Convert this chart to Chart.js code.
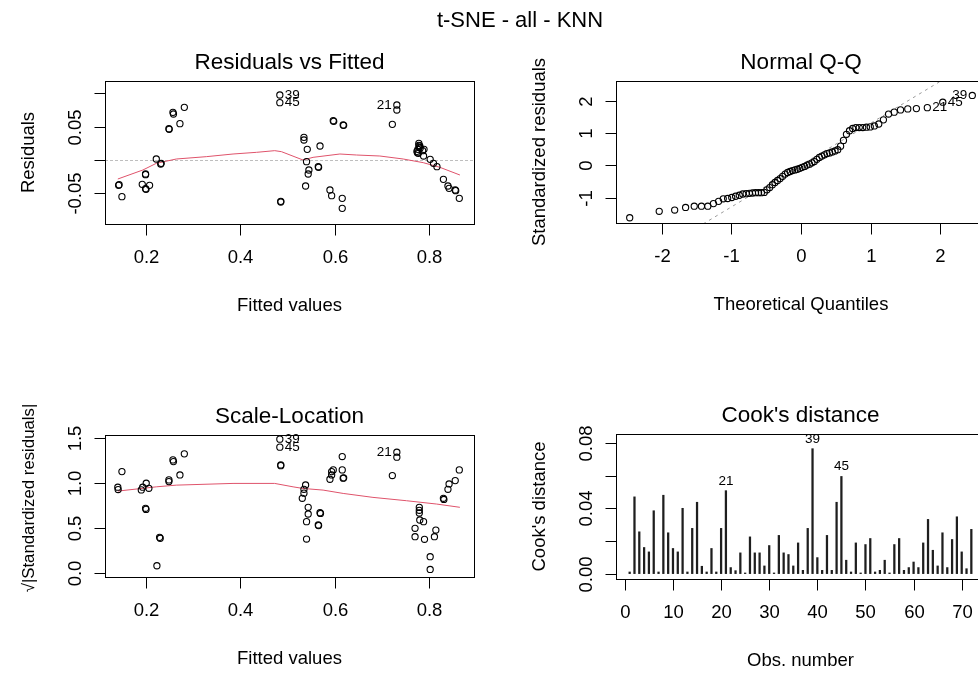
<!DOCTYPE html>
<html>
<head>
<meta charset="utf-8">
<script src="https://cdn.jsdelivr.net/npm/chart.js@4.4.0/dist/chart.umd.min.js"></script>
<style>
  html, body { margin: 0; padding: 0; background: #fff; overflow: hidden; }
  body { width: 978px; height: 673px; position: relative; font-family: "Liberation Sans", Arial, sans-serif; }
  .panel { position: absolute; }
  #mainTitle { position: absolute; top: 7px; left: 0; width: 1040px; text-align: center; font-size: 22px; color: #000; z-index: 2; }
</style>
</head>
<body>
<div class="panel" style="left:0;top:0"><canvas id="rvf" width="489" height="336"></canvas></div>
<div class="panel" style="left:489px;top:0"><canvas id="qq" width="520" height="336"></canvas></div>
<div class="panel" style="left:0;top:336px"><canvas id="sl" width="489" height="337"></canvas></div>
<div class="panel" style="left:489px;top:336px"><canvas id="cook" width="520" height="337"></canvas></div>
<div id="mainTitle">t-SNE - all - KNN</div>
<script>
// --- Residuals vs Fitted ---
const rvfFitted = [0.143, 0.144, 0.150, 0.193, 0.200, 0.200, 0.200, 0.201, 0.2085, 0.2227,
  0.232, 0.233, 0.2494, 0.250, 0.2579, 0.259, 0.2727, 0.282, 0.484, 0.484,
  0.486, 0.486, 0.535, 0.535, 0.542, 0.569, 0.5405, 0.5455, 0.544, 0.5653,
  0.566, 0.5385, 0.590, 0.5936, 0.616, 0.616, 0.597, 0.598, 0.618, 0.619,
  0.722, 0.7315, 0.7315, 0.778, 0.778, 0.779, 0.776, 0.774, 0.786, 0.789,
  0.788, 0.802, 0.809, 0.8163, 0.830, 0.8396, 0.842, 0.855, 0.856, 0.8636,
  0.780, 0.777, 0.781, 0.775];
const rvfResid = [-0.038, -0.037, -0.055, -0.0365, -0.021, -0.022, -0.043, -0.044, -0.038, 0.0015,
  -0.006, -0.005, 0.047, 0.046, 0.0715, 0.069, 0.0545, 0.079, 0.0975, 0.086,
  -0.063, -0.062, 0.034, 0.030, 0.016, 0.021, -0.0025, -0.015, -0.021, -0.010,
  -0.011, -0.039, -0.045, -0.0535, -0.0575, -0.0725, 0.059, 0.058, 0.0525, 0.052,
  0.0535, 0.0825, 0.075, 0.025, 0.022, 0.019, 0.016, 0.013, 0.014, 0.016,
  0.006, 0.001, -0.005, -0.010, -0.029, -0.039, -0.0425, -0.045, -0.046, -0.0575,
  0.021, 0.010, 0.018, 0.011];
const rvfSmoothX = [0.1413, 0.1943, 0.2227, 0.265, 0.3285, 0.385, 0.4345, 0.4732, 0.4874, 0.5331,
  0.5543, 0.611, 0.6462, 0.6956, 0.745, 0.7873, 0.8226, 0.8649];
const rvfSmoothY = [-0.0285, -0.015, -0.005, 0.0015, 0.005, 0.009, 0.0115, 0.014, 0.0125, 0.0,
  0.004, 0.009, 0.0075, 0.006, 0.0015, -0.004, -0.011, -0.0225];
const rvfIdIndex = [18, 19, 41];
const rvfXTicks = [0.2, 0.4, 0.6, 0.8];
const rvfYTicks = [-0.05, 0, 0.05, 0.1];
const rvfYTickLabels = ['-0.05', '', '0.05', ''];

// --- Normal Q-Q ---
const qqTheoretical = [-2.461, -2.037, -1.815, -1.658, -1.534, -1.430, -1.339, -1.258, -1.184, -1.117,
  -1.054, -0.995, -0.940, -0.887, -0.837, -0.788, -0.742, -0.697, -0.653, -0.610,
  -0.569, -0.528, -0.489, -0.450, -0.411, -0.374, -0.337, -0.300, -0.264, -0.228,
  -0.192, -0.157, -0.122, -0.087, -0.052, -0.017, 0.017, 0.052, 0.087, 0.122,
  0.157, 0.192, 0.228, 0.264, 0.300, 0.337, 0.374, 0.411, 0.450, 0.489,
  0.528, 0.569, 0.610, 0.653, 0.697, 0.742, 0.788, 0.837, 0.887, 0.940,
  0.995, 1.054, 1.117, 1.184, 1.258, 1.339, 1.430, 1.534, 1.658, 1.815,
  2.037, 2.461];
const qqStdResid = [-1.63, -1.43, -1.39, -1.31, -1.27, -1.27, -1.27, -1.19, -1.12, -1.04,
  -1.03, -1.00, -0.96, -0.93, -0.89, -0.88, -0.87, -0.86, -0.85, -0.85,
  -0.85, -0.84, -0.76, -0.69, -0.60, -0.53, -0.47, -0.41, -0.34, -0.27,
  -0.22, -0.19, -0.16, -0.14, -0.12, -0.09, -0.06, -0.03, 0.01, 0.04,
  0.08, 0.12, 0.19, 0.25, 0.29, 0.33, 0.37, 0.39, 0.42, 0.45,
  0.49, 0.60, 0.78, 0.97, 1.08, 1.15, 1.18, 1.18, 1.18, 1.19,
  1.20, 1.23, 1.29, 1.42, 1.60, 1.66, 1.73, 1.76, 1.77, 1.80,
  1.97, 2.18];
const qqLineX = [-2.7, 2.7];
const qqLineY = [-3.51, 3.53];
const qqIdIndex = [71, 70, 69];
const qqXTicks = [-2, -1, 0, 1, 2];
const qqYTicks = [-1, 0, 1, 2];

// --- Scale-Location ---
const slFitted = [0.1413, 0.142, 0.150, 0.191, 0.194, 0.2014, 0.207, 0.200, 0.201, 0.2297,
  0.231, 0.224, 0.2494, 0.2494, 0.2579, 0.259, 0.2727, 0.282, 0.484, 0.484,
  0.486, 0.486, 0.5385, 0.535, 0.535, 0.5315, 0.544, 0.544, 0.5405, 0.5405,
  0.569, 0.570, 0.5653, 0.566, 0.616, 0.590, 0.5936, 0.597, 0.5936, 0.616,
  0.618, 0.619, 0.722, 0.7315, 0.7315, 0.779, 0.779, 0.779, 0.780, 0.788,
  0.770, 0.770, 0.790, 0.802, 0.802, 0.811, 0.814, 0.830, 0.831, 0.8396,
  0.842, 0.855, 0.8636];
const slSqrtStdResid = [0.956, 0.93, 1.129, 0.926, 0.956, 1.0, 0.944, 0.722, 0.71, 0.40,
  0.39, 0.085, 1.037, 1.018, 1.259, 1.24, 1.092, 1.326, 1.489, 1.40,
  1.203, 1.195, 0.981, 0.933, 0.89, 0.833, 0.733, 0.659, 0.574, 0.381,
  0.674, 0.665, 0.537, 0.53, 1.296, 1.044, 1.129, 1.148, 1.092, 1.148,
  1.056, 1.06, 1.085, 1.344, 1.289, 0.733, 0.70, 0.67, 0.592, 0.574,
  0.50, 0.407, 0.378, 0.185, 0.044, 0.407, 0.481, 0.833, 0.82, 0.933,
  0.992, 1.029, 1.148];
const slSmoothX = [0.1413, 0.2227, 0.265, 0.385, 0.473, 0.512, 0.533, 0.5755, 0.618, 0.681,
  0.752, 0.8157, 0.8648];
const slSmoothY = [0.913, 0.960, 0.979, 0.998, 0.998, 0.960, 0.942, 0.924, 0.887, 0.843,
  0.806, 0.769, 0.733];
const slIdIndex = [18, 19, 43];
const slXTicks = [0.2, 0.4, 0.6, 0.8];
const slYTicks = [0, 0.5, 1, 1.5];
const slYTickLabels = ['0.0', '0.5', '1.0', '1.5'];

// --- Cook's distance ---
const cookD = [0.001, 0.047, 0.0256, 0.016, 0.0133, 0.0385, 0.001, 0.048, 0.025, 0.0154,
  0.0133, 0.040, 0.001, 0.0277, 0.0437, 0.0045, 0.001, 0.0154, 0.001, 0.0277,
  0.0508, 0.0037, 0.0018, 0.0127, 0.0004, 0.0225, 0.0127, 0.0127, 0.0047, 0.0172,
  0.0004, 0.0234, 0.0127, 0.0117, 0.0047, 0.0188, 0.002, 0.0277, 0.0765, 0.0098,
  0.002, 0.0234, 0.002, 0.0437, 0.0595, 0.0082, 0.001, 0.0188, 0.0004, 0.0178,
  0.0215, 0.001, 0.002, 0.0082, 0.0004, 0.0178, 0.0215, 0.002, 0.0037, 0.0071,
  0.0037, 0.0188, 0.0332, 0.0143, 0.0047, 0.025, 0.0037, 0.0209, 0.0348, 0.0133,
  0.003, 0.0271];
const cookIdIndex = [20, 38, 44];
const cookXTicks = [0, 10, 20, 30, 40, 50, 60, 70];
const cookYTicks = [0, 0.02, 0.04, 0.06, 0.08];
const cookYTickLabels = ['0.00', '', '0.04', '', '0.08'];

const idText = { 18: '39', 19: '45', 41: '21', 43: '21', 71: '39', 70: '45', 69: '21', 20: '21', 38: '39', 44: '45' };

const FONT = '"Liberation Sans", Arial, sans-serif';
const TICK = 11;
const RED = '#DF536B';

function drawText(ctx, text, x, y, o) {
  ctx.save();
  ctx.translate(x, y);
  if (o.rotate) ctx.rotate(-Math.PI / 2);
  ctx.font = o.font;
  ctx.fillStyle = '#000';
  ctx.textAlign = o.align || 'center';
  ctx.textBaseline = o.baseline || 'middle';
  ctx.fillText(text, 0, 0);
  ctx.restore();
}

function seg(ctx, x1, y1, x2, y2) {
  ctx.beginPath();
  ctx.moveTo(x1, y1);
  ctx.lineTo(x2, y2);
  ctx.stroke();
}

// draws box, axes, titles and point ids in base-R style
function rPanel(spec) {
  return {
    id: 'rPanel',
    beforeDatasetsDraw(chart) {
      if (!spec.zeroLine) return;
      const a = chart.chartArea, ctx = chart.ctx;
      const py = Math.round(chart.scales.y.getPixelForValue(0)) + 0.5;
      ctx.save();
      ctx.strokeStyle = '#BEBEBE';
      ctx.lineWidth = 1;
      ctx.setLineDash([3, 2]);
      seg(ctx, a.left, py, a.right, py);
      ctx.restore();
    },
    afterDraw(chart) {
      const ctx = chart.ctx, a = chart.chartArea;
      const xs = chart.scales.x, ys = chart.scales.y;
      const L = Math.round(a.left) + 0.5, R = Math.round(a.right) + 0.5;
      const T = Math.round(a.top) + 0.5, B = Math.round(a.bottom) + 0.5;
      ctx.save();
      ctx.strokeStyle = '#000';
      ctx.lineWidth = 1;
      ctx.strokeRect(L, T, R - L, B - T);
      const axisFont = '18.5px ' + FONT;
      spec.xTicks.forEach(v => {
        const px = Math.round(xs.getPixelForValue(v)) + 0.5;
        seg(ctx, px, B, px, B + TICK);
        drawText(ctx, String(v), px, B + 33, { font: axisFont });
      });
      spec.yTicks.forEach((v, k) => {
        const py = Math.round(ys.getPixelForValue(v)) + 0.5;
        seg(ctx, L - TICK, py, L, py);
        const lab = spec.yLabels ? spec.yLabels[k] : String(v);
        if (lab) drawText(ctx, lab, L - 25, py, { font: axisFont, rotate: true, baseline: 'alphabetic' });
      });
      const cx = (a.left + a.right) / 2, cy = (a.top + a.bottom) / 2;
      drawText(ctx, spec.title, cx, a.top - 18, { font: '22.5px ' + FONT });
      drawText(ctx, spec.xTitle, cx, B + 81, { font: axisFont });
      drawText(ctx, spec.yTitle, L - 72, cy + (spec.yTitleShift || 0),
        { font: (spec.yTitleSize || 18.5) + 'px ' + FONT, rotate: true, baseline: 'alphabetic' });
      const meta = chart.getDatasetMeta(0);
      spec.ids.forEach(([idx, pos]) => {
        const el = meta.data[idx];
        const t = idText[idx];
        const f = '13.5px ' + FONT;
        if (pos === 4) drawText(ctx, t, el.x + 5, el.y, { font: f, align: 'left' });
        else if (pos === 2) drawText(ctx, t, el.x - 5, el.y, { font: f, align: 'right' });
        else drawText(ctx, t, el.x, el.y - 3, { font: f, baseline: 'bottom' });
      });
      ctx.restore();
    }
  };
}

function baseOptions(pad, xr, yr) {
  return {
    responsive: false,
    animation: false,
    devicePixelRatio: 1,
    events: [],
    layout: { padding: pad },
    plugins: { legend: { display: false }, tooltip: { enabled: false } },
    scales: {
      x: { type: 'linear', display: false, min: xr[0], max: xr[1] },
      y: { type: 'linear', display: false, min: yr[0], max: yr[1] }
    }
  };
}

const pointStyle = { pointRadius: 3.1, pointBorderWidth: 1.1, pointBorderColor: '#000', pointBackgroundColor: 'rgba(0,0,0,0)', showLine: false };
const smoothStyle = { type: 'line', borderColor: RED, borderWidth: 1, pointRadius: 0, fill: false, tension: 0 };

new Chart(document.getElementById('rvf'), {
  type: 'scatter',
  data: {
    datasets: [
      Object.assign({ data: rvfFitted.map((x, i) => ({ x, y: rvfResid[i] })) }, pointStyle),
      Object.assign({ data: rvfSmoothX.map((x, i) => ({ x, y: rvfSmoothY[i] })) }, smoothStyle)
    ]
  },
  options: baseOptions({ left: 105, top: 81, right: 15, bottom: 112 }, [0.1142, 0.8947], [-0.096, 0.1185]),
  plugins: [rPanel({
    title: 'Residuals vs Fitted', xTitle: 'Fitted values', yTitle: 'Residuals',
    xTicks: rvfXTicks, yTicks: rvfYTicks, yLabels: rvfYTickLabels, zeroLine: true,
    ids: [[rvfIdIndex[0], 4], [rvfIdIndex[1], 4], [rvfIdIndex[2], 2]]
  })]
});

new Chart(document.getElementById('qq'), {
  type: 'scatter',
  data: {
    datasets: [
      Object.assign({ data: qqTheoretical.map((x, i) => ({ x, y: qqStdResid[i] })) }, pointStyle),
      { type: 'line', data: qqLineX.map((x, i) => ({ x, y: qqLineY[i] })), borderColor: '#9A9A9A', borderWidth: 1, borderDash: [3, 4], pointRadius: 0, fill: false }
    ]
  },
  options: baseOptions({ left: 127, top: 81, right: 23, bottom: 113 }, [-2.658, 2.658], [-1.794, 2.63]),
  plugins: [rPanel({
    title: 'Normal Q-Q', xTitle: 'Theoretical Quantiles', yTitle: 'Standardized residuals',
    xTicks: qqXTicks, yTicks: qqYTicks,
    ids: [[qqIdIndex[0], 2], [qqIdIndex[1], 4], [qqIdIndex[2], 4]]
  })]
});

new Chart(document.getElementById('sl'), {
  type: 'scatter',
  data: {
    datasets: [
      Object.assign({ data: slFitted.map((x, i) => ({ x, y: slSqrtStdResid[i] })) }, pointStyle),
      Object.assign({ data: slSmoothX.map((x, i) => ({ x, y: slSmoothY[i] })) }, smoothStyle)
    ]
  },
  options: baseOptions({ left: 105, top: 99, right: 15, bottom: 96 }, [0.1142, 0.8947], [-0.04, 1.535]),
  plugins: [rPanel({
    title: 'Scale-Location', xTitle: 'Fitted values', yTitle: '\u221A|Standardized residuals|',
    yTitleSize: 16.8, yTitleShift: -8,
    xTicks: slXTicks, yTicks: slYTicks, yLabels: slYTickLabels,
    ids: [[slIdIndex[0], 4], [slIdIndex[1], 4], [slIdIndex[2], 2]]
  })]
});

new Chart(document.getElementById('cook'), {
  type: 'bar',
  data: {
    datasets: [{
      data: cookD.map((y, i) => ({ x: i + 1, y })),
      backgroundColor: '#1E1E1E',
      barThickness: 1.6,
      borderWidth: 0
    }]
  },
  options: (() => {
    const o = baseOptions({ left: 127, top: 98, right: 24, bottom: 94 }, [-1.84, 74.84], [-0.0033, 0.0855]);
    o.scales.x.offset = false;
    return o;
  })(),
  plugins: [rPanel({
    title: "Cook's distance", xTitle: 'Obs. number', yTitle: "Cook's distance",
    xTicks: cookXTicks, yTicks: cookYTicks, yLabels: cookYTickLabels,
    ids: [[cookIdIndex[0], 3], [cookIdIndex[1], 3], [cookIdIndex[2], 3]]
  })]
});
</script>
</body>
</html>
